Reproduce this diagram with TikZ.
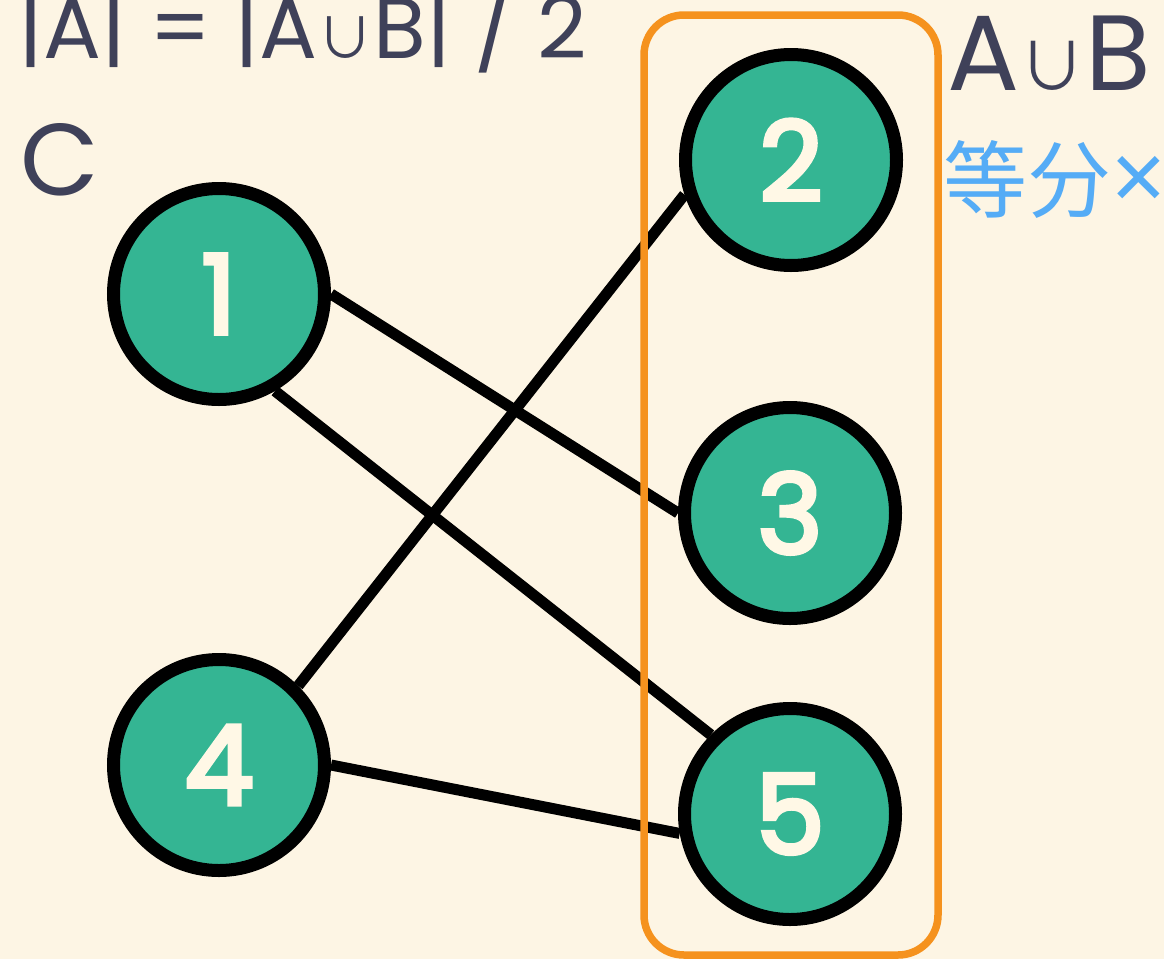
\documentclass[tikz,border=0pt]{standalone}
\usepackage{fontspec}
\setmainfont{Poppins}
\newfontfamily\cjkf{Noto Sans CJK SC}
\newfontfamily\digitf{Poppins}[FakeBold=4]
\newfontfamily\notof{Noto Sans}
\usetikzlibrary{shadows}
\definecolor{bgc}{HTML}{FDF5E4}
\definecolor{greenc}{HTML}{34B593}
\definecolor{textc}{HTML}{3F4159}
\definecolor{bluec}{HTML}{55ACF6}
\definecolor{orangec}{HTML}{F5921E}
\definecolor{digitc}{HTML}{FFF8E6}
\pgfdeclarelayer{bglayer}
\pgfdeclarelayer{edgelayer}
\pgfsetlayers{bglayer,edgelayer,main}
\tikzset{
  vtx/.style={circle, draw=black, line width=13pt, fill=greenc, inner sep=0pt,
    minimum size=211pt, text=digitc,
    font=\digitf\fontsize{110}{110}\selectfont,
    drop shadow={shadow xshift=2pt, shadow yshift=-3pt, fill=black, opacity=0.18}},
  link/.style={line width=11pt, draw=black},
  lbl/.style={inner sep=0pt, anchor=base west, text=textc},
  setbox/.style={draw=orangec, line width=7.5pt, rounded corners=40pt,
    minimum width=294pt, minimum height=940pt, inner sep=0pt},
}
\newcommand{\cupsym}[1]{{\cjkf\fontsize{#1}{#1}\selectfont ∪}}
\begin{document}
\begin{tikzpicture}[x=1pt,y=-1pt]
\begin{pgfonlayer}{bglayer}
\fill[bgc] (0,0) rectangle (1164,959);
\end{pgfonlayer}
\useasboundingbox (0,0) rectangle (1164,959);

\node[setbox] (box) at (791,485) {};

\node[vtx] (n1) at (219,294) {1};
\node[vtx] (n2) at (791,160) {2};
\node[vtx] (n3) at (790,513) {3};
\node[vtx] (n4) at (219,765) {4};
\node[vtx] (n5) at (790,814) {5};

\begin{pgfonlayer}{edgelayer}
\draw[link] (n1.east) -- (n3.west);
\draw[link] (n1.-60) -- (n5.north west);
\draw[link] (n4.north east) -- (n2.198);
\draw[link] (n4.east) -- (n5.190);
\end{pgfonlayer}

\node[lbl, font=\fontsize{86}{86}\selectfont] (formula) at (18,58) {|A| = |A\cupsym{56}B| / 2};
\node[lbl, font=\fontsize{102}{102}\selectfont] (clabel) at (20,195) {C};
\node[lbl, font=\fontsize{107}{107}\selectfont] (union) at (947,90) {A\cupsym{66}B};
\node[lbl, text=bluec, font=\cjkf\fontsize{84}{84}\selectfont] (split) at (943,211) {等分{\notof\fontsize{96}{96}\selectfont ×}};
\end{tikzpicture}
\end{document}
